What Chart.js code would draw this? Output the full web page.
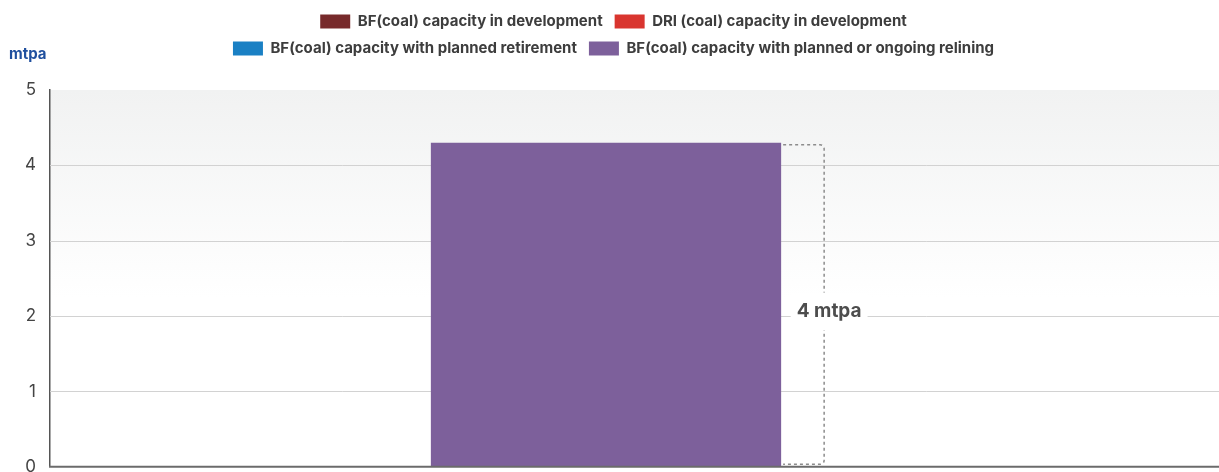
<!DOCTYPE html>
<html>
<head>
<meta charset="utf-8">
<script src="https://cdn.jsdelivr.net/npm/chart.js@4/dist/chart.umd.min.js"></script>
<style>
  html, body { margin: 0; padding: 0; background: #fff; overflow: hidden; }
  #wrap { position: relative; width: 1219px; height: 491px; }
</style>
</head>
<body>
<div id="wrap"><canvas id="chart"></canvas></div>
<script>
// ---- data ----
const categories = ['Total'];
const seriesNames = [
  'BF(coal) capacity in development',
  'DRI (coal) capacity in development',
  'BF(coal) capacity with planned retirement',
  'BF(coal) capacity with planned or ongoing relining'
];
const seriesColors = ['#772a2b', '#d9352f', '#1a80c4', '#7d609b'];
const bfDevelopment = [null];
const driDevelopment = [null];
const bfRetirement = [null];
const bfRelining = [4.3];
const yTicks = [0, 1, 2, 3, 4, 5];
const unitLabel = 'mtpa';

const FONT = 'Inter, "Noto Sans", sans-serif';

// Legend wraps into two rows, leaves a gap above the plot and is centred on the full page width
const legendLayout = {
  id: 'legendLayout',
  beforeUpdate(chart) {
    const legend = chart.legend;
    if (!legend || legend._patched) return;
    const fit = legend.fit;
    legend.fit = function () {
      const full = this.maxWidth;
      this.maxWidth = Math.min(full, 940);
      fit.call(this);
      this.maxWidth = full;
      this.height += 24;
    };
    legend._patched = true;
  },
  beforeDraw(chart) {
    const legend = chart.legend;
    if (!legend) return;
    legend.left = 0;
    legend.right = chart.width + 8;
  }
};

// Soft grey wash at the top of the plot, grid lines and base line running to the right edge
const plotBackground = {
  id: 'plotBackground',
  beforeDraw(chart) {
    const { ctx, chartArea } = chart;
    const g = ctx.createLinearGradient(0, chartArea.top, 0, chartArea.top + chartArea.height * 0.55);
    g.addColorStop(0, 'rgb(241,242,242)');
    g.addColorStop(1, 'rgba(255,255,255,1)');
    ctx.save();
    ctx.fillStyle = g;
    ctx.fillRect(chartArea.left, chartArea.top, chart.width - chartArea.left, chartArea.height);
    ctx.restore();
  },
  beforeDatasetsDraw(chart) {
    const { ctx, chartArea, scales } = chart;
    const y = scales.y;
    ctx.save();
    ctx.strokeStyle = '#d2d2d2';
    ctx.lineWidth = 1;
    yTicks.forEach(v => {
      if (v === y.min || v === y.max) return;
      const py = Math.round(y.getPixelForValue(v)) + 0.5;
      ctx.beginPath();
      ctx.moveTo(chartArea.left, py);
      ctx.lineTo(chart.width, py);
      ctx.stroke();
    });
    ctx.restore();
  },
  afterDatasetsDraw(chart) {
    const { ctx, chartArea, scales } = chart;
    const py = scales.y.getPixelForValue(0);
    ctx.save();
    ctx.strokeStyle = '#6b6b6b';
    ctx.lineWidth = 2;
    ctx.beginPath();
    ctx.moveTo(chartArea.left - 1, py);
    ctx.lineTo(chart.width, py);
    ctx.stroke();
    ctx.restore();
  }
};

// Dotted bracket beside the bar with its rounded value
const valueBracket = {
  id: 'valueBracket',
  afterDatasetsDraw(chart) {
    const { ctx } = chart;
    const idx = 3;
    const bar = chart.getDatasetMeta(idx).data[0];
    const value = chart.data.datasets[idx].data[0];
    if (!bar || value == null) return;
    const p = bar.getProps(['x', 'y', 'base', 'width'], true);
    const left = p.x + p.width / 2;
    const right = left + 43;
    const top = p.y + 2;
    const bottom = p.base - 2.5;
    const r = 4;
    ctx.save();
    ctx.strokeStyle = '#8c8c8c';
    ctx.lineWidth = 1.5;
    ctx.setLineDash([3, 3]);
    ctx.beginPath();
    ctx.moveTo(left + 2, top);
    ctx.lineTo(right - r, top);
    ctx.arcTo(right, top, right, top + r, r);
    ctx.lineTo(right, bottom - r);
    ctx.arcTo(right, bottom, right - r, bottom, r);
    ctx.lineTo(left + 2, bottom);
    ctx.stroke();
    ctx.setLineDash([]);

    const text = Math.round(value) + ' ' + unitLabel;
    ctx.font = 'bold 19px ' + FONT;
    const w = ctx.measureText(text).width;
    const cx = right + 5;
    const cy = (top + bottom) / 2 + 7;
    ctx.fillStyle = '#ffffff';
    ctx.fillRect(cx - w / 2 - 6, cy - 19, w + 12, 38);
    ctx.fillStyle = '#4d4d4d';
    ctx.textAlign = 'center';
    ctx.textBaseline = 'middle';
    ctx.fillText(text, cx, cy);
    ctx.restore();
  }
};

// Unit caption above the value axis
const unitCaption = {
  id: 'unitCaption',
  afterDraw(chart) {
    const { ctx } = chart;
    ctx.save();
    ctx.font = 'bold 15px ' + FONT;
    ctx.fillStyle = '#1f4f9e';
    ctx.textAlign = 'left';
    ctx.textBaseline = 'alphabetic';
    ctx.fillText(unitLabel, 9, 59);
    ctx.restore();
  }
};

const seriesData = [bfDevelopment, driDevelopment, bfRetirement, bfRelining];

new Chart(document.getElementById('chart'), {
  type: 'bar',
  data: {
    labels: categories,
    datasets: seriesData.map((d, i) => ({
      label: seriesNames[i],
      data: d,
      backgroundColor: seriesColors[i],
      borderWidth: 0,
      barPercentage: 0.315,
      categoryPercentage: 1
    }))
  },
  options: {
    responsive: true,
    maintainAspectRatio: false,
    animation: false,
    layout: { padding: { left: 0, right: 57, top: 2, bottom: 0 } },
    plugins: {
      legend: {
        position: 'top',
        labels: {
          boxWidth: 30,
          boxHeight: 14,
          padding: 12,
          color: '#3d3d3d',
          font: { family: FONT, size: 15, weight: 'bold' }
        }
      },
      tooltip: { enabled: false }
    },
    scales: {
      x: {
        stacked: true,
        grid: { display: false, drawTicks: false },
        ticks: { display: false },
        border: { display: false }
      },
      y: {
        stacked: true,
        min: 0,
        max: 5,
        afterBuildTicks(s) { s.ticks = yTicks.map(v => ({ value: v })); },
        afterFit(s) { s.width = 50; },
        grid: { display: false, drawTicks: false },
        border: { display: true, color: '#555555', width: 1.5 },
        ticks: {
          padding: 14,
          color: '#444444',
          font: { family: FONT, size: 17 }
        }
      }
    }
  },
  plugins: [legendLayout, plotBackground, valueBracket, unitCaption]
});
</script>
</body>
</html>
